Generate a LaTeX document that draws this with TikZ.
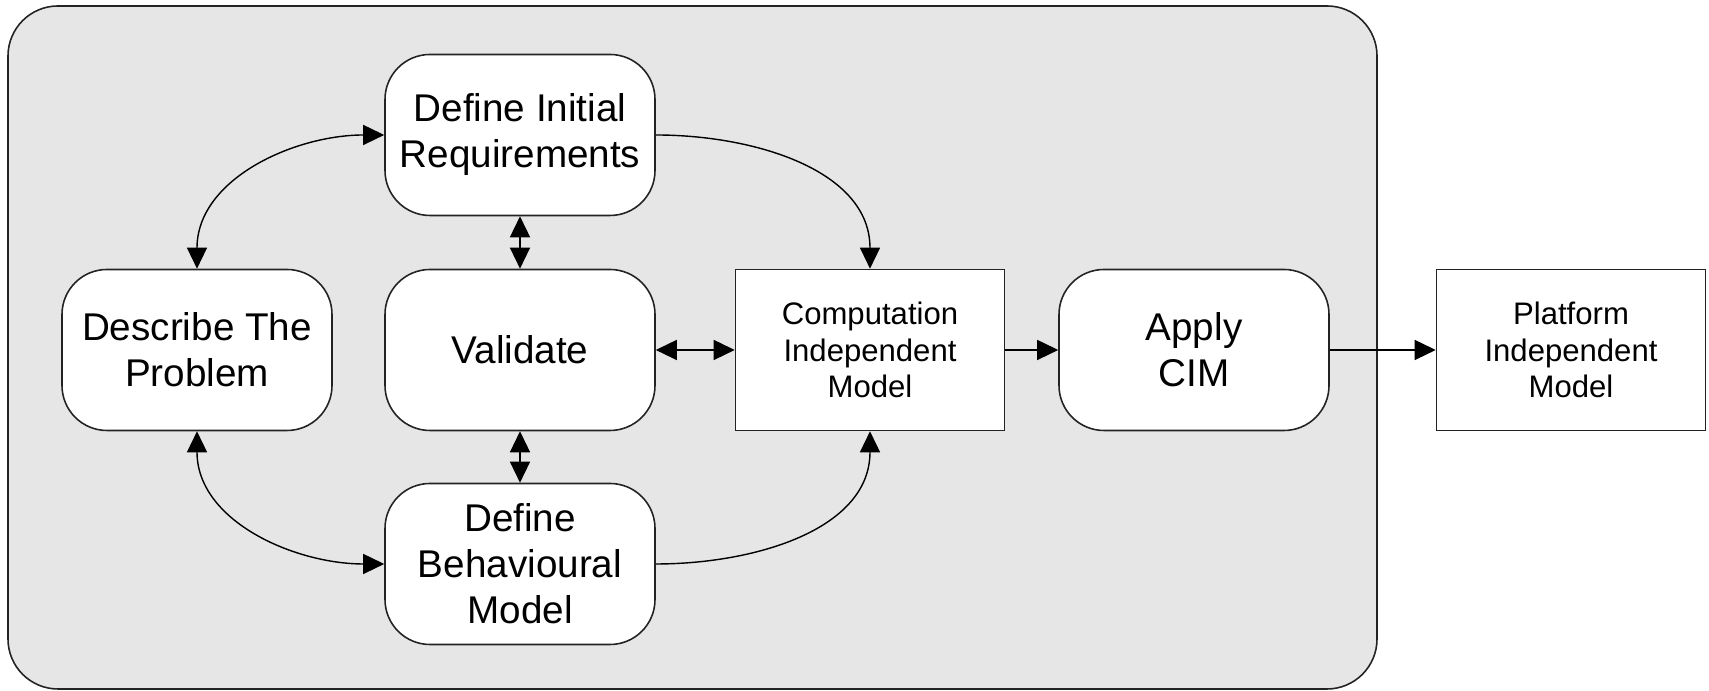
\documentclass[tikz,border=0pt]{standalone}
\usepackage{fontspec}
\setmainfont{Liberation Sans}
\usepackage{tikz}
\usepackage{xcolor}
\usetikzlibrary{arrows.meta}
\definecolor{panel}{RGB}{230, 230, 230}
\definecolor{outline}{RGB}{35, 35, 35}

\begin{document}
\begin{tikzpicture}[
    stage/.style={
        draw=outline, fill=white, rounded corners=0.45cm, line width=0.45pt,
        minimum width=2.70cm, minimum height=1.61cm, align=center,
        font=\fontsize{11.0}{13.1}\selectfont
    },
    model/.style={
        draw=outline, fill=white, line width=0.45pt,
        minimum width=2.69cm, minimum height=1.61cm, align=center,
        font=\fontsize{8.85}{10.45}\selectfont
    },
    link/.style={-{Triangle[length=0.21cm, width=0.2cm]}, line width=0.4pt},
    twoway/.style={{Triangle[length=0.21cm, width=0.2cm]}-{Triangle[length=0.21cm, width=0.2cm]}, line width=0.4pt}
]
\useasboundingbox (0, 0) rectangle (17.09, 6.91);

% Grey panel round the CIM stages
\draw[outline, fill=panel, line width=0.45pt, rounded corners=0.5cm] (0.08, 0.02) rectangle (13.77, 6.85);

% Stages
\node[stage] (require) at (5.20, 5.56) {Define Initial\\Requirements};
\node[stage] (problem) at (1.97, 3.41) {Describe The\\Problem};
\node[stage] (validate) at (5.20, 3.41) {Validate};
\node[stage] (behave) at (5.20, 1.27) {Define\\Behavioural\\Model};
\node[model] (cim) at (8.70, 3.41) {Computation\\Independent\\Model};
\node[stage] (apply) at (11.94, 3.41) {Apply\\CIM};
\node[model] (pim) at (15.71, 3.41) {Platform\\Independent\\Model};

% Curved links
\draw[twoway] (problem.north) to[out=90, in=180] (require.west);
\draw[twoway] (problem.south) to[out=-90, in=180] (behave.west);
\draw[link] (require.east) to[out=0, in=90] (cim.north);
\draw[link] (behave.east) to[out=0, in=-90] (cim.south);

% Straight links
\draw[twoway] (require) -- (validate);
\draw[twoway] (validate) -- (behave);
\draw[twoway] (validate) -- (cim);
\draw[link] (cim) -- (apply);
\draw[link] (apply) -- (pim);

\end{tikzpicture}
\end{document}
